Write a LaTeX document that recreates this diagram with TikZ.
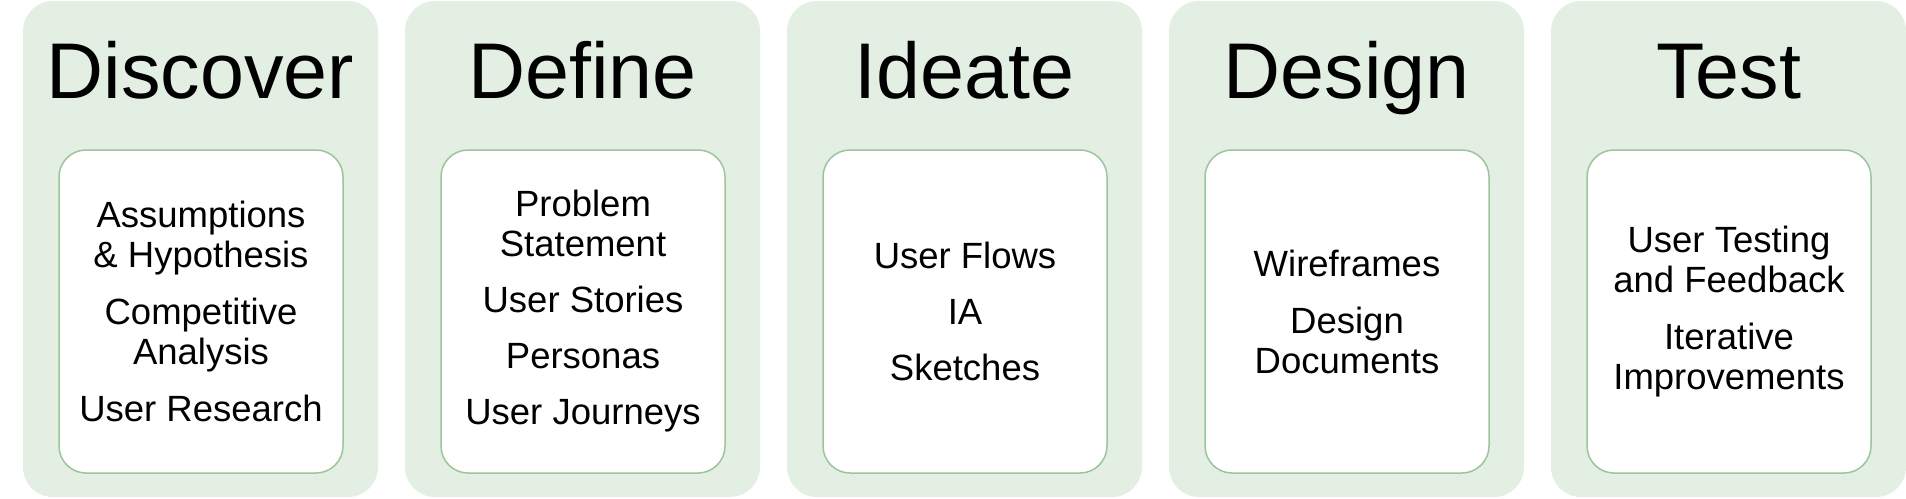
\documentclass[tikz,border=0pt]{standalone}
\usepackage{fontspec}
\setmainfont{Liberation Sans}
\definecolor{outerfill}{HTML}{E2EFE2}
\definecolor{innerline}{HTML}{9DC49D}
\tikzset{
  phase/.style={fill=outerfill, draw=none, rounded corners=30pt, minimum width=355pt, minimum height=496pt, inner sep=0pt},
  title/.style={font=\fontsize{79}{84}\selectfont, anchor=base, inner sep=0pt},
  card/.style={fill=white, draw=innerline, line width=1.5pt, rounded corners=27pt, minimum width=284pt, minimum height=323pt, inner sep=0pt},
  items/.style={font=\fontsize{36.5}{40}\selectfont, align=center, inner sep=0pt}
}
\begin{document}
\begin{tikzpicture}[x=1pt,y=-1pt]
\useasboundingbox (0,0) rectangle (1906,498);
% outer phase panels
\node[phase] (o1) at (200.5,249) {};
\node[phase] (o2) at (582.5,249) {};
\node[phase] (o3) at (964.5,249) {};
\node[phase] (o4) at (1346.5,249) {};
\node[phase] (o5) at (1728.5,249) {};
% titles
\node[title] (h1) at (200.5,98) {Discover};
\node[title] (h2) at (582.5,98) {Define};
\node[title] (h3) at (964.5,98) {Ideate};
\node[title] (h4) at (1346.5,98) {Design};
\node[title] (h5) at (1728.5,98) {Test};
% cards
\node[card] (c1) at (201,311.5) {};
\node[card] (c2) at (583,311.5) {};
\node[card] (c3) at (965,311.5) {};
\node[card] (c4) at (1347,311.5) {};
\node[card] (c5) at (1729,311.5) {};
% card texts
\node[items] (t1) at (c1.center) {Assumptions\\\& Hypothesis\\[17pt]Competitive\\Analysis\\[17pt]User Research};
\node[items] (t2) at (c2.center) {Problem\\Statement\\[16pt]User Stories\\[16pt]Personas\\[16pt]User Journeys};
\node[items] (t3) at (c3.center) {User Flows\\[16pt]IA\\[16pt]Sketches};
\node[items] (t4) at (c4.center) {Wireframes\\[17pt]Design\\Documents};
\node[items] (t5) at (c5.center) {User Testing\\and Feedback\\[17pt]Iterative\\Improvements};
\end{tikzpicture}
\end{document}
